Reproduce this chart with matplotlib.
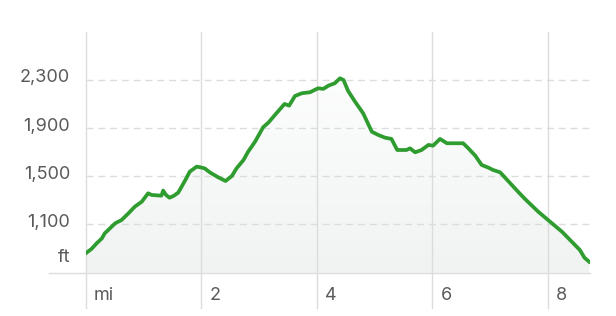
import numpy as np
import matplotlib
matplotlib.use('Agg')
import matplotlib.pyplot as plt
import matplotlib.transforms as mtrans
from matplotlib.patches import Polygon

# elevation profile
dist_mi = [0.00, 0.10, 0.19, 0.28, 0.33, 0.42, 0.51, 0.62, 0.74, 0.85, 0.97,
           1.08, 1.14, 1.31, 1.34, 1.39, 1.45, 1.52, 1.60, 1.66, 1.74, 1.80,
           1.92, 1.98, 2.06, 2.15, 2.29, 2.42, 2.53, 2.61, 2.73, 2.81, 2.93,
           3.07, 3.16, 3.30, 3.44, 3.52, 3.62, 3.74, 3.88, 4.02, 4.11, 4.20,
           4.31, 4.40, 4.46, 4.54, 4.66, 4.80, 4.95, 5.06, 5.18, 5.29, 5.39,
           5.55, 5.61, 5.70, 5.81, 5.93, 6.01, 6.13, 6.25, 6.53, 6.62, 6.74,
           6.85, 6.97, 7.05, 7.17, 7.48, 7.60, 7.83, 8.00, 8.24, 8.41, 8.55,
           8.63, 8.71]
elev_ft = [861, 897, 944, 985, 1027, 1068, 1110, 1137, 1193, 1248, 1289,
           1359, 1345, 1339, 1381, 1345, 1322, 1337, 1364, 1414, 1483, 1538,
           1580, 1575, 1565, 1532, 1492, 1461, 1503, 1566, 1635, 1704, 1787,
           1907, 1945, 2023, 2100, 2086, 2166, 2189, 2197, 2230, 2225, 2252,
           2272, 2313, 2299, 2208, 2119, 2023, 1870, 1843, 1820, 1810, 1718,
           1718, 1732, 1699, 1718, 1760, 1754, 1810, 1774, 1774, 1732, 1671,
           1594, 1571, 1552, 1533, 1372, 1312, 1206, 1137, 1040, 957, 888,
           824, 791]

x_ticks = [0, 2, 4, 6, 8]
x_labels = ['mi', '2', '4', '6', '8']
y_ticks = [1100, 1500, 1900, 2300]

W, H = 616, 316
fig = plt.figure(figsize=(W / 100, H / 100), dpi=100)
L, R, T, B = 85.7, 590, 32, 272.7
ax = fig.add_axes([L / W, 1 - B / H, (R - L) / W, (B - T) / H])
ax.set_xlim(0, 8.725)
ax.set_ylim(700, 2697)
for s in ax.spines.values():
    s.set_visible(False)
ax.set_xticks([])
ax.set_yticks([])

txt = '#5a5a5a'
grid = '#dcdcdc'
plt.rcParams['font.family'] = ['Inter', 'DejaVu Sans']

# dashed horizontal grid
for v in y_ticks:
    ax.axhline(v, color=grid, lw=1.0, dashes=(5, 3.5), zorder=1)
# baseline, runs out to the left
ax.axhline(700, xmin=(49 - L) / (R - L), xmax=1, color=grid, lw=1.0,
           clip_on=False, zorder=1)
# vertical lines, run below the axes
for v in x_ticks:
    ax.axvline(v, ymin=-(308 - B) / (B - T), ymax=1, color=grid, lw=1.0,
               clip_on=False, zorder=1)

# gradient fill under the profile
grad = np.linspace(1, 0, 256).reshape(-1, 1)
top = np.array([1.0, 1.0, 1.0])
bot = np.array([0.945, 0.953, 0.953])
img = top * grad[..., None] + bot * (1 - grad[..., None])
im = ax.imshow(img, extent=[0, 8.725, 700, 2697], aspect='auto',
               origin='upper', zorder=0)
verts = [(dist_mi[0], 700)] + list(zip(dist_mi, elev_ft)) + [(dist_mi[-1], 700)]
clip = Polygon(verts, closed=True, transform=ax.transData, facecolor='none',
               edgecolor='none')
ax.add_patch(clip)
im.set_clip_path(clip)

ax.plot(dist_mi, elev_ft, color='#2f9c2f', lw=2.7, solid_joinstyle='round',
        zorder=3)

# y labels
for v in y_ticks:
    off = mtrans.ScaledTranslation(-15.7 / 100, 2 / 100, fig.dpi_scale_trans)
    ax.text(0, v, f'{v:,}', transform=ax.transData + off, ha='right',
            va='center', fontsize=13, color=txt)
off = mtrans.ScaledTranslation(-15.7 / 100, 15.7 / 100, fig.dpi_scale_trans)
ax.text(0, 700, 'ft', transform=ax.transData + off, ha='right', va='center',
        fontsize=13, color=txt)

# x labels
for v, lab in zip(x_ticks, x_labels):
    off = mtrans.ScaledTranslation(8 / 100, -23.3 / 100, fig.dpi_scale_trans)
    ax.text(v, 700, lab, transform=ax.transData + off, ha='left',
            va='center', fontsize=13, color=txt)

fig.savefig('out.png', dpi=100)
